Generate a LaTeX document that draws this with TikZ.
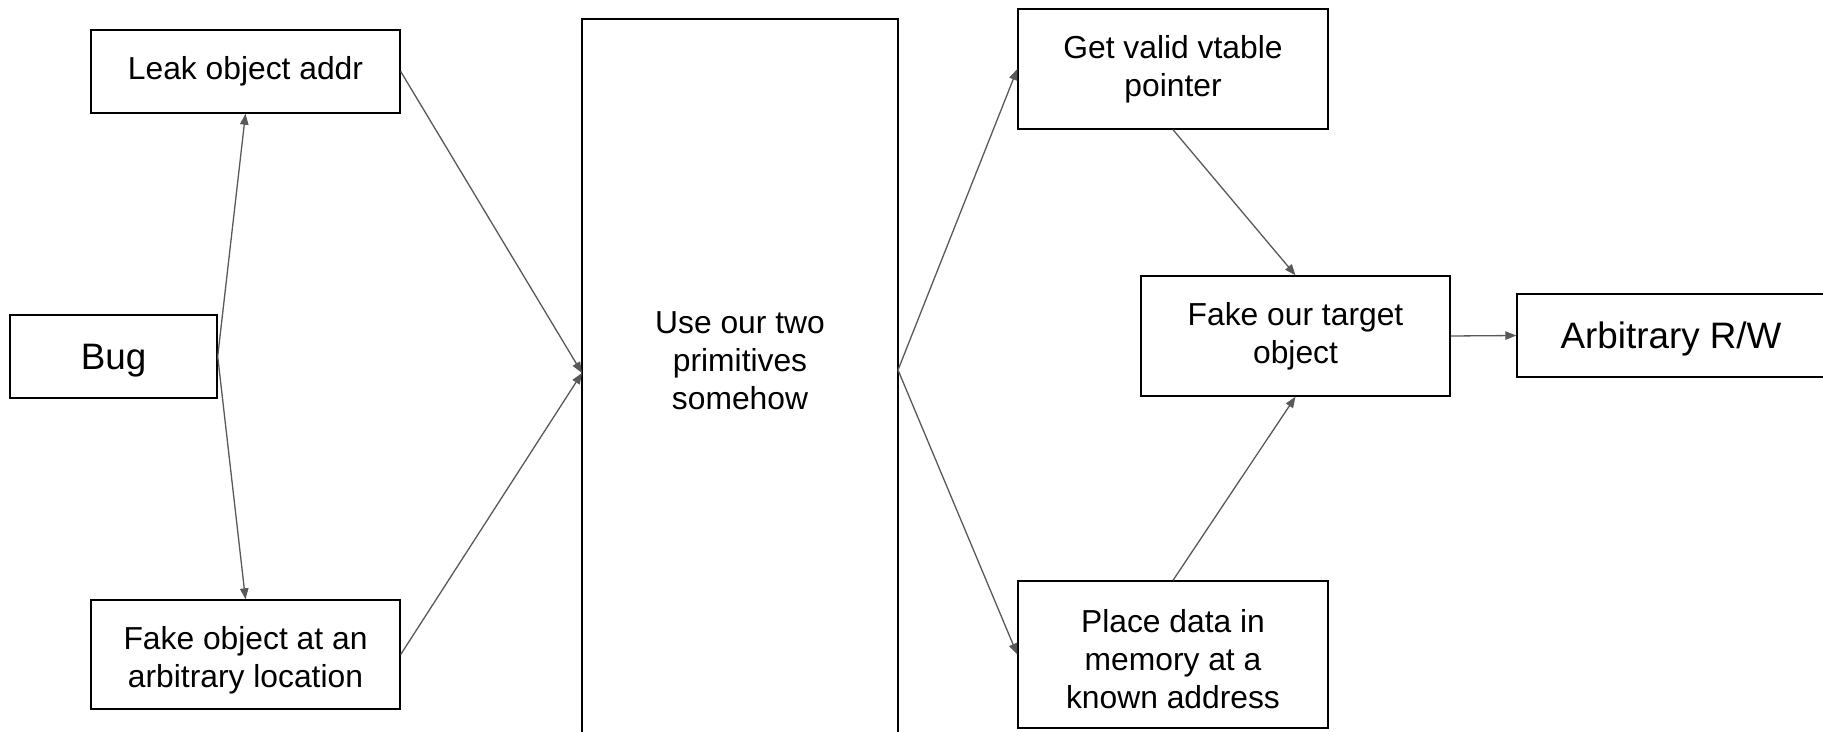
\documentclass[tikz,border=0pt]{standalone}
\usepackage{fontspec}
\setmainfont{Liberation Sans}
\usetikzlibrary{arrows.meta}
\definecolor{arrowgray}{HTML}{595959}
\begin{document}
\begin{tikzpicture}[x=0.5pt,y=-0.5pt,
  box/.style={draw=black, line width=0.7pt, rectangle, inner sep=0pt},
  txt/.style={align=center, inner sep=0pt, font=\fontsize{15.9pt}{18.9pt}\selectfont},
  bigtxt/.style={align=center, inner sep=0pt, font=\fontsize{18.4pt}{22pt}\selectfont},
  conn/.style={draw=arrowgray, line width=0.65pt, -{Triangle[length=5.5pt,width=4.2pt]}}]
\path[use as bounding box, clip] (0,0) rectangle (1823,732);
\fill[white] (0,0) rectangle (1823,732);

\node[box, minimum width=154.5pt, minimum height=41.5pt,
  label={[txt]center:Leak object addr}] (leak) at (245.5,71.5) {};
\node[box, minimum width=103.5pt, minimum height=41.5pt,
  label={[bigtxt, yshift=-2.3pt]center:Bug}] (bug) at (113.5,356.5) {};
\node[box, minimum width=154.5pt, minimum height=54.5pt,
  label={[txt, yshift=-2.9pt]center:{Fake object at an\\arbitrary location}}] (fakeobj) at (245.5,654.5) {};
\node[box, minimum width=158pt, minimum height=390.5pt] (big) at (740,409.5) {};
\node[txt] (bigtext) at (740,361) {Use our two\\primitives\\somehow};
\node[box, minimum width=155pt, minimum height=60pt,
  label={[txt]center:{Get valid vtable\\pointer}}] (vtable) at (1173,69) {};
\node[box, minimum width=154.5pt, minimum height=60pt,
  label={[txt, yshift=-0.3pt]center:{Fake our target\\object}}] (target) at (1295.5,336) {};
\node[box, minimum width=154pt, minimum height=41.5pt,
  label={[bigtxt, yshift=-1.7pt]center:Arbitrary R/W}] (rw) at (1671,335.5) {};
\node[box, minimum width=155pt, minimum height=73.5pt,
  label={[txt, yshift=-2.3pt]center:{Place data in\\memory at a\\known address}}] (place) at (1173,654.5) {};

\coordinate (bigL) at (582,373);
\coordinate (bigR) at (898,370);

\draw[conn] (bug.east) -- (leak.south);
\draw[conn] (bug.east) -- (fakeobj.north);
\draw[conn] (leak.east) -- (bigL);
\draw[conn] (fakeobj.east) -- (bigL);
\draw[conn] (bigR) -- (vtable.west);
\draw[conn] (bigR) -- (place.west);
\draw[conn] (vtable.south) -- (target.north);
\draw[conn] (place.north) -- (target.south);
\draw[conn] (target.east) -- (rw.west);
\end{tikzpicture}
\end{document}
